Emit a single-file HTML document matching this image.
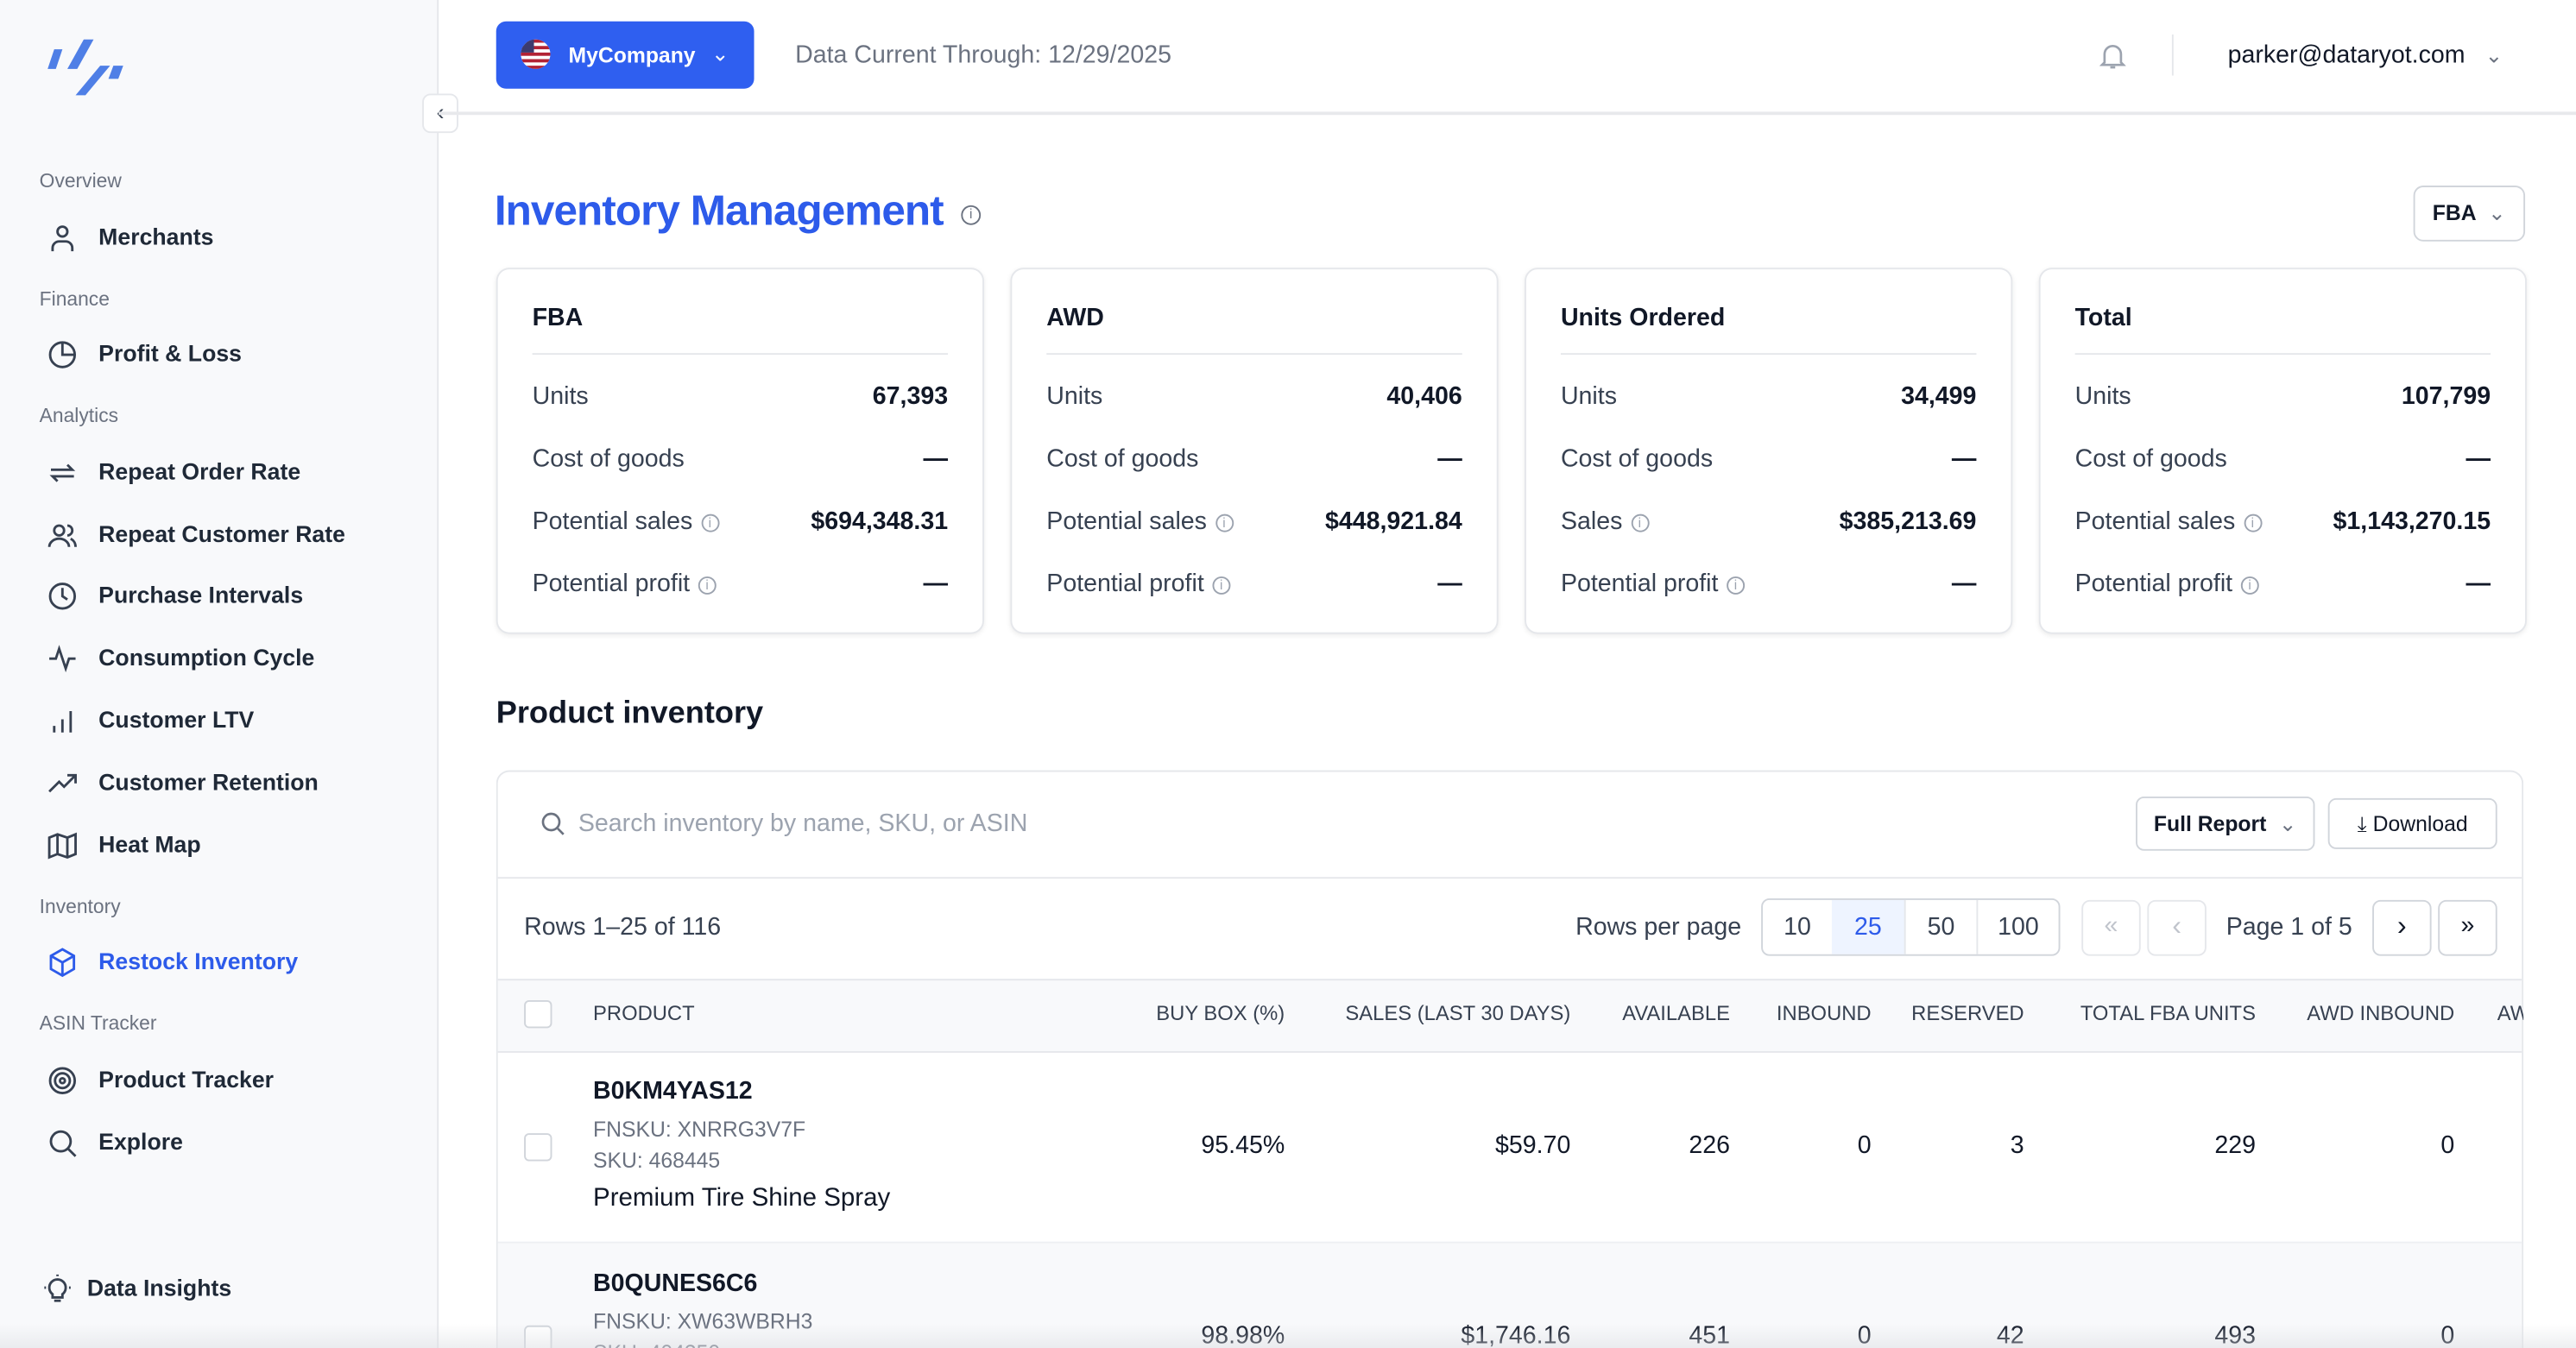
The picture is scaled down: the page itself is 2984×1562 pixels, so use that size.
<!DOCTYPE html>
<html><head><meta charset="utf-8">
<style>
html,body{margin:0;padding:0;width:2984px;height:1562px;overflow:hidden;background:#fff}
#root{position:absolute;left:0;top:0;width:1568px;height:821px;transform:scale(1.9031);transform-origin:0 0;font-family:"Liberation Sans",sans-serif;color:#111827;overflow:hidden;background:#fff}
.a{position:absolute;white-space:nowrap}
.sec{font-size:12px;color:#6b7280;left:24px}
.nav{font-size:14px;font-weight:bold;color:#1f2937;left:60px}
.ic{position:absolute;left:29px;width:18px;height:18px}
.card{position:absolute;top:163px;width:295px;height:221px;border:1px solid #e5e7eb;border-radius:8px;box-shadow:0 1px 3px rgba(0,0,0,.08);background:#fff}
.card .t{position:absolute;left:21px;top:21px;font-size:15px;font-weight:bold}
.card .ln{position:absolute;left:21px;right:21px;top:51px;border-top:1px solid #e5e7eb}
.card .l{position:absolute;left:21px;font-size:15px;color:#374151}
.card .v{position:absolute;right:21px;font-size:15px;font-weight:bold}
.info{display:inline-block;width:9px;height:9px;border:1px solid #9ca3af;border-radius:50%;font-size:8px;line-height:9px;text-align:center;color:#9ca3af;margin-left:5px;vertical-align:1px}
.btn{position:absolute;border:1px solid #d1d5db;border-radius:5px;background:#fff;font-size:13px;text-align:center}
.th{font-size:12.5px;color:#374151;top:610px}
.v1{font-size:15px;color:#111827}
</style></head><body>
<div id="root">
<!-- sidebar -->
<div class="a" style="left:0;top:0;width:266px;height:821px;background:#f8f9fb;border-right:1px solid #e5e7eb"></div>
<svg class="a" style="left:28px;top:24px" width="48" height="35" viewBox="0 0 48 35"><g fill="#4f7fe6"><polygon points="5,6 10,6 6,18 1,18"/><polygon points="23,0 29,0 19,18 13,18"/><polygon points="33,16 39,16 24,34 18,34"/><polygon points="41,16 47,16 44,24 38,24"/></g></svg>
<div class="a" style="left:257px;top:57px;width:20px;height:22px;border:1px solid #e5e7eb;border-radius:5px;background:#fff;font-size:14px;text-align:center;line-height:20px;color:#374151">‹</div>
<div class="a sec" style="top:103px">Overview</div>
<svg class="ic" style="top:136px" viewBox="0 0 18 18" fill="none" stroke="#374151" stroke-width="1.5"><circle cx="9" cy="5" r="3"/><path d="M3 17v-2a4 4 0 0 1 4-4h4a4 4 0 0 1 4 4v2"/></svg>
<div class="a nav" style="top:136px">Merchants</div>
<div class="a sec" style="top:175px">Finance</div>
<svg class="ic" style="top:207px" viewBox="0 0 18 18" fill="none" stroke="#374151" stroke-width="1.5"><circle cx="9" cy="9" r="7.5"/><path d="M9 1.5V9h7.5"/></svg>
<div class="a nav" style="top:207px">Profit &amp; Loss</div>
<div class="a sec" style="top:246px">Analytics</div>
<svg class="ic" style="top:279px" viewBox="0 0 18 18" fill="none" stroke="#374151" stroke-width="1.5"><path d="M2 7h13l-3-3M16 11H3l3 3"/></svg>
<div class="a nav" style="top:279px">Repeat Order Rate</div>
<svg class="ic" style="top:317px" viewBox="0 0 18 18" fill="none" stroke="#374151" stroke-width="1.5"><circle cx="7" cy="6" r="3"/><path d="M1 16c0-3 3-5 6-5s6 2 6 5M12 3a3 3 0 0 1 0 6M14 11c2 1 3 3 3 5"/></svg>
<div class="a nav" style="top:317px">Repeat Customer Rate</div>
<svg class="ic" style="top:354px" viewBox="0 0 18 18" fill="none" stroke="#374151" stroke-width="1.5"><circle cx="9" cy="9" r="7.5"/><path d="M9 4v5l3 2"/></svg>
<div class="a nav" style="top:354px">Purchase Intervals</div>
<svg class="ic" style="top:392px" viewBox="0 0 18 18" fill="none" stroke="#374151" stroke-width="1.5"><path d="M1 9h4l2-6 4 12 2-6h4"/></svg>
<div class="a nav" style="top:392px">Consumption Cycle</div>
<svg class="ic" style="top:430px" viewBox="0 0 18 18" fill="none" stroke="#374151" stroke-width="1.5"><path d="M4 16v-4M9 16V8M14 16V3"/></svg>
<div class="a nav" style="top:430px">Customer LTV</div>
<svg class="ic" style="top:468px" viewBox="0 0 18 18" fill="none" stroke="#374151" stroke-width="1.5"><path d="M1 14l6-6 3 3 7-7M12 4h5v5"/></svg>
<div class="a nav" style="top:468px">Customer Retention</div>
<svg class="ic" style="top:506px" viewBox="0 0 18 18" fill="none" stroke="#374151" stroke-width="1.5"><path d="M1 4l5-2 6 2 5-2v12l-5 2-6-2-5 2zM6 2v12M12 4v12"/></svg>
<div class="a nav" style="top:506px">Heat Map</div>
<div class="a sec" style="top:545px">Inventory</div>
<svg class="ic" style="top:577px" viewBox="0 0 18 18" fill="none" stroke="#2d5bea" stroke-width="1.5"><path d="M9 1l7 4v8l-7 4-7-4V5zM2 5l7 4 7-4M9 9v8"/></svg>
<div class="a nav" style="top:577px;color:#2d5bea">Restock Inventory</div>
<div class="a sec" style="top:616px">ASIN Tracker</div>
<svg class="ic" style="top:649px" viewBox="0 0 18 18" fill="none" stroke="#374151" stroke-width="1.5"><circle cx="9" cy="9" r="7.5"/><circle cx="9" cy="9" r="4.5"/><circle cx="9" cy="9" r="1.5"/></svg>
<div class="a nav" style="top:649px">Product Tracker</div>
<svg class="ic" style="top:687px" viewBox="0 0 18 18" fill="none" stroke="#374151" stroke-width="1.5"><circle cx="8" cy="8" r="6"/><path d="M12.5 12.5L17 17"/></svg>
<div class="a nav" style="top:687px">Explore</div>
<svg class="ic" style="top:776px;left:26px" viewBox="0 0 18 18" fill="none" stroke="#374151" stroke-width="1.5"><path d="M6 12a5 5 0 1 1 6 0v2H6zM7 16h4M9 0v1M1 8h1M16 8h1"/></svg>
<div class="a nav" style="top:776px;left:53px">Data Insights</div>

<!-- top bar -->
<div class="a" style="left:267px;top:68px;width:1301px;height:2px;background:#e8e9ec"></div>
<div class="a" style="left:302px;top:13px;width:157px;height:41px;background:#2f5ff0;border-radius:6px;color:#fff;font-size:13px;font-weight:bold;line-height:41px">
 <svg class="a" style="left:14px;top:10px" width="20" height="20" viewBox="0 0 20 20"><clipPath id="c"><circle cx="10" cy="10" r="9"/></clipPath><g clip-path="url(#c)"><rect width="20" height="20" fill="#fff"/><g fill="#b22234"><rect y="1" width="20" height="2"/><rect y="5" width="20" height="2"/><rect y="9" width="20" height="2"/><rect y="13" width="20" height="2"/><rect y="17" width="20" height="2"/></g><rect width="9" height="9" fill="#3c3b6e"/></g></svg>
 <span class="a" style="left:44px;top:0">MyCompany</span><span class="a" style="left:131px;top:-1px;font-weight:normal">⌄</span></div>
<div class="a" style="left:484px;top:25px;font-size:15px;color:#6b7280">Data Current Through: 12/29/2025</div>
<svg class="a" style="left:1278px;top:25px" width="16" height="18" viewBox="0 0 16 18" fill="none" stroke="#9ca3af" stroke-width="1.4"><path d="M3 13V8a5 5 0 0 1 10 0v5l1.5 1.5h-13zM6.5 16h3"/></svg>
<div class="a" style="left:1322px;top:21px;width:1px;height:25px;background:#e5e7eb"></div>
<div class="a" style="left:1356px;top:25px;font-size:15px;color:#111827">parker@dataryot.com <span style="margin-left:8px;font-size:13px;color:#6b7280">⌄</span></div>

<!-- title -->
<div class="a" style="left:301px;top:113px;font-size:26px;font-weight:bold;color:#2d5bea;letter-spacing:-0.5px">Inventory Management</div>
<div class="a" style="left:580px;top:121px"><span class="info" style="width:10px;height:10px;border-color:#6b7280;color:#6b7280">i</span></div>
<div class="btn" style="left:1469px;top:113px;width:66px;height:32px;line-height:32px;font-weight:bold;border-radius:6px">FBA <span style="font-weight:normal;color:#6b7280;margin-left:4px">⌄</span></div>

<!-- cards -->
<div class="card" style="left:302px"><div class="t">FBA</div><div class="ln"></div>
<div class="l" style="top:69px">Units</div><div class="v" style="top:69px">67,393</div>
<div class="l" style="top:107px">Cost of goods</div><div class="v" style="top:107px">—</div>
<div class="l" style="top:145px">Potential sales<span class="info">i</span></div><div class="v" style="top:145px">$694,348.31</div>
<div class="l" style="top:183px">Potential profit<span class="info">i</span></div><div class="v" style="top:183px">—</div></div>
<div class="card" style="left:615px"><div class="t">AWD</div><div class="ln"></div>
<div class="l" style="top:69px">Units</div><div class="v" style="top:69px">40,406</div>
<div class="l" style="top:107px">Cost of goods</div><div class="v" style="top:107px">—</div>
<div class="l" style="top:145px">Potential sales<span class="info">i</span></div><div class="v" style="top:145px">$448,921.84</div>
<div class="l" style="top:183px">Potential profit<span class="info">i</span></div><div class="v" style="top:183px">—</div></div>
<div class="card" style="left:928px"><div class="t">Units Ordered</div><div class="ln"></div>
<div class="l" style="top:69px">Units</div><div class="v" style="top:69px">34,499</div>
<div class="l" style="top:107px">Cost of goods</div><div class="v" style="top:107px">—</div>
<div class="l" style="top:145px">Sales<span class="info">i</span></div><div class="v" style="top:145px">$385,213.69</div>
<div class="l" style="top:183px">Potential profit<span class="info">i</span></div><div class="v" style="top:183px">—</div></div>
<div class="card" style="left:1241px"><div class="t">Total</div><div class="ln"></div>
<div class="l" style="top:69px">Units</div><div class="v" style="top:69px">107,799</div>
<div class="l" style="top:107px">Cost of goods</div><div class="v" style="top:107px">—</div>
<div class="l" style="top:145px">Potential sales<span class="info">i</span></div><div class="v" style="top:145px">$1,143,270.15</div>
<div class="l" style="top:183px">Potential profit<span class="info">i</span></div><div class="v" style="top:183px">—</div></div>

<div class="a" style="left:302px;top:424px;font-size:19px;font-weight:bold;color:#111827">Product inventory</div>

<!-- table -->
<div class="a" style="left:302px;top:469px;width:1234px;height:352px;border:1px solid #e5e7eb;border-bottom:none;border-radius:8px 8px 0 0;background:#fff;overflow:hidden;box-sizing:border-box">
 <div class="a" style="left:0;top:64px;width:100%;border-top:1px solid #e5e7eb"></div>
 <div class="a" style="left:0;top:126px;width:100%;height:43px;background:#f8f9fb;border-top:1px solid #e5e7eb;border-bottom:1px solid #e5e7eb"></div>
 <div class="a" style="left:0;top:286px;width:100%;height:70px;background:#f8f9fb;border-top:1px solid #eef0f3"></div>
</div>
<svg class="a" style="left:329px;top:494px" width="15" height="15" viewBox="0 0 15 15" fill="none" stroke="#6b7280" stroke-width="1.4"><circle cx="6.5" cy="6.5" r="5"/><path d="M10.5 10.5L14 14"/></svg>
<div class="a" style="left:352px;top:493px;font-size:15px;color:#9ca3af">Search inventory by name, SKU, or ASIN</div>
<div class="btn" style="left:1300px;top:485px;width:107px;height:31px;line-height:31px;font-weight:bold">Full Report <span style="font-weight:normal;color:#6b7280;margin-left:4px">⌄</span></div>
<div class="btn" style="left:1417px;top:486px;width:101px;height:29px;line-height:29px">⤓ Download</div>

<div class="a" style="left:319px;top:556px;font-size:15px;color:#374151">Rows 1–25 of 116</div>
<div class="a" style="left:959px;top:556px;font-size:15px;color:#374151">Rows per page</div>
<div class="a" style="left:1072px;top:547px;width:180px;height:33px;border:1px solid #d1d5db;border-radius:5px;overflow:hidden;font-size:15px;color:#374151;line-height:33px">
 <span class="a" style="left:0;width:42px;text-align:center;border-right:1px solid #e5e7eb">10</span>
 <span class="a" style="left:42px;width:44px;text-align:center;background:#eef4ff;color:#2d5bea;border-right:1px solid #e5e7eb">25</span>
 <span class="a" style="left:87px;width:43px;text-align:center;border-right:1px solid #e5e7eb">50</span>
 <span class="a" style="left:131px;width:49px;text-align:center">100</span></div>
<div class="btn" style="left:1267px;top:548px;width:34px;height:32px;line-height:30px;font-size:15px;color:#c0c4cc;border-color:#e5e7eb">«</div>
<div class="btn" style="left:1307px;top:548px;width:34px;height:32px;line-height:30px;font-size:17px;color:#c0c4cc;border-color:#e5e7eb">‹</div>
<div class="a" style="left:1355px;top:556px;font-size:15px;color:#374151">Page 1 of 5</div>
<div class="btn" style="left:1444px;top:548px;width:34px;height:32px;line-height:30px;font-size:17px;color:#111827">›</div>
<div class="btn" style="left:1484px;top:548px;width:34px;height:32px;line-height:30px;font-size:15px;color:#111827">»</div>

<div class="a" style="left:319px;top:609px;width:15px;height:15px;border:1px solid #d1d5db;border-radius:3px;background:#fff"></div>
<div class="a th" style="left:361px">PRODUCT</div>
<div class="a th" style="right:786px">BUY BOX (%)</div>
<div class="a th" style="right:612px">SALES (LAST 30 DAYS)</div>
<div class="a th" style="right:515px">AVAILABLE</div>
<div class="a th" style="right:429px">INBOUND</div>
<div class="a th" style="right:336px">RESERVED</div>
<div class="a th" style="right:195px">TOTAL FBA UNITS</div>
<div class="a th" style="right:74px">AWD INBOUND</div>
<div class="a th" style="left:1520px;width:16px;overflow:hidden">AWD</div>

<!-- row 1 -->
<div class="a" style="left:319px;top:690px;width:15px;height:15px;border:1px solid #d1d5db;border-radius:3px;background:#fff"></div>
<div class="a" style="left:361px;top:656px;font-size:15px;font-weight:bold">B0KM4YAS12</div>
<div class="a" style="left:361px;top:680px;font-size:13px;color:#6b7280">FNSKU: XNRRG3V7F</div>
<div class="a" style="left:361px;top:699px;font-size:13px;color:#6b7280">SKU: 468445</div>
<div class="a" style="left:361px;top:721px;font-size:15.5px">Premium Tire Shine Spray</div>
<div class="a v1" style="top:689px;right:786px">95.45%</div>
<div class="a v1" style="top:689px;right:612px">$59.70</div>
<div class="a v1" style="top:689px;right:515px">226</div>
<div class="a v1" style="top:689px;right:429px">0</div>
<div class="a v1" style="top:689px;right:336px">3</div>
<div class="a v1" style="top:689px;right:195px">229</div>
<div class="a v1" style="top:689px;right:74px">0</div>
<!-- row 2 -->
<div class="a" style="left:319px;top:807px;width:15px;height:15px;border:1px solid #d1d5db;border-radius:3px;background:#fff"></div>
<div class="a" style="left:361px;top:773px;font-size:15px;font-weight:bold">B0QUNES6C6</div>
<div class="a" style="left:361px;top:797px;font-size:13px;color:#6b7280">FNSKU: XW63WBRH3</div>
<div class="a" style="left:361px;top:816px;font-size:13px;color:#6b7280">SKU: 404350</div>
<div class="a v1" style="top:805px;right:786px">98.98%</div>
<div class="a v1" style="top:805px;right:612px">$1,746.16</div>
<div class="a v1" style="top:805px;right:515px">451</div>
<div class="a v1" style="top:805px;right:429px">0</div>
<div class="a v1" style="top:805px;right:336px">42</div>
<div class="a v1" style="top:805px;right:195px">493</div>
<div class="a v1" style="top:805px;right:74px">0</div>
<div class="a" style="left:0;top:806px;width:1568px;height:15px;background:linear-gradient(rgba(255,255,255,0),rgba(220,222,226,.5))"></div>
</div>
</body></html>
